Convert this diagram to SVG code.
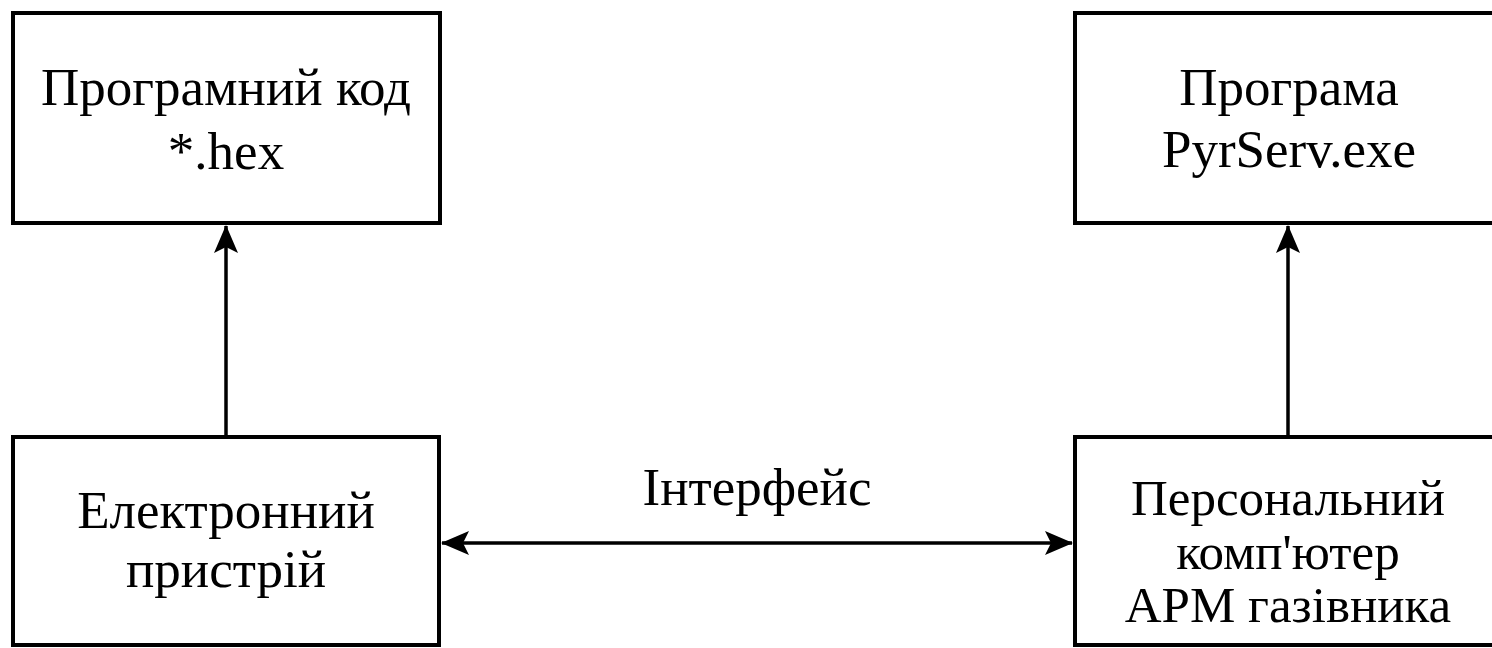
<svg xmlns="http://www.w3.org/2000/svg" width="1492" height="648" viewBox="0 0 1492 648">
<style>
.box{fill:#fff;stroke:#000;stroke-width:4}
.t{font-size:53px;fill:#000;text-anchor:middle}
.s{font-size:51px}
.c{stroke:#000;stroke-width:3.5;fill:none}
</style>
<defs>
<marker id="ah" markerUnits="userSpaceOnUse" markerWidth="28" markerHeight="24" viewBox="0 0 28 24" refX="27" refY="12" orient="auto-start-reverse">
<path d="M0,0 L28,12 L0,24 L6,12 Z" fill="#000"/>
</marker>
</defs>
<rect width="1492" height="648" fill="#fff"/>
<g font-family="Liberation Serif, DejaVu Serif, serif">
<g id="n-code">
<rect class="box" x="13" y="13" width="427" height="210"/>
<text class="t" x="226" y="105">Програмний код</text>
<text class="t" x="226" y="169">*.hex</text>
</g>
<g id="n-prog">
<rect class="box" x="1075" y="13" width="440" height="210"/>
<text class="t" x="1289" y="105">Програма</text>
<text class="t" x="1289" y="167">PyrServ.exe</text>
</g>
<g id="n-device">
<rect class="box" x="13" y="437" width="426" height="208"/>
<text class="t" x="226" y="528">Електронний</text>
<text class="t" x="226" y="587">пристрій</text>
</g>
<g id="n-pc">
<rect class="box" x="1075" y="437" width="440" height="208"/>
<text class="t s" x="1288" y="515">Персональний</text>
<text class="t s" x="1288" y="569">комп'ютер</text>
<text class="t s" x="1288" y="622">АРМ газівника</text>
</g>
<g id="connectors">
<line class="c" x1="226" y1="435" x2="226" y2="226" marker-end="url(#ah)"/>
<line class="c" x1="1288" y1="435" x2="1288" y2="226" marker-end="url(#ah)"/>
<line class="c" x1="442" y1="543" x2="1072" y2="543" marker-start="url(#ah)" marker-end="url(#ah)"/>
<text class="t" x="757" y="505">Інтерфейс</text>
</g>
</g>
</svg>
